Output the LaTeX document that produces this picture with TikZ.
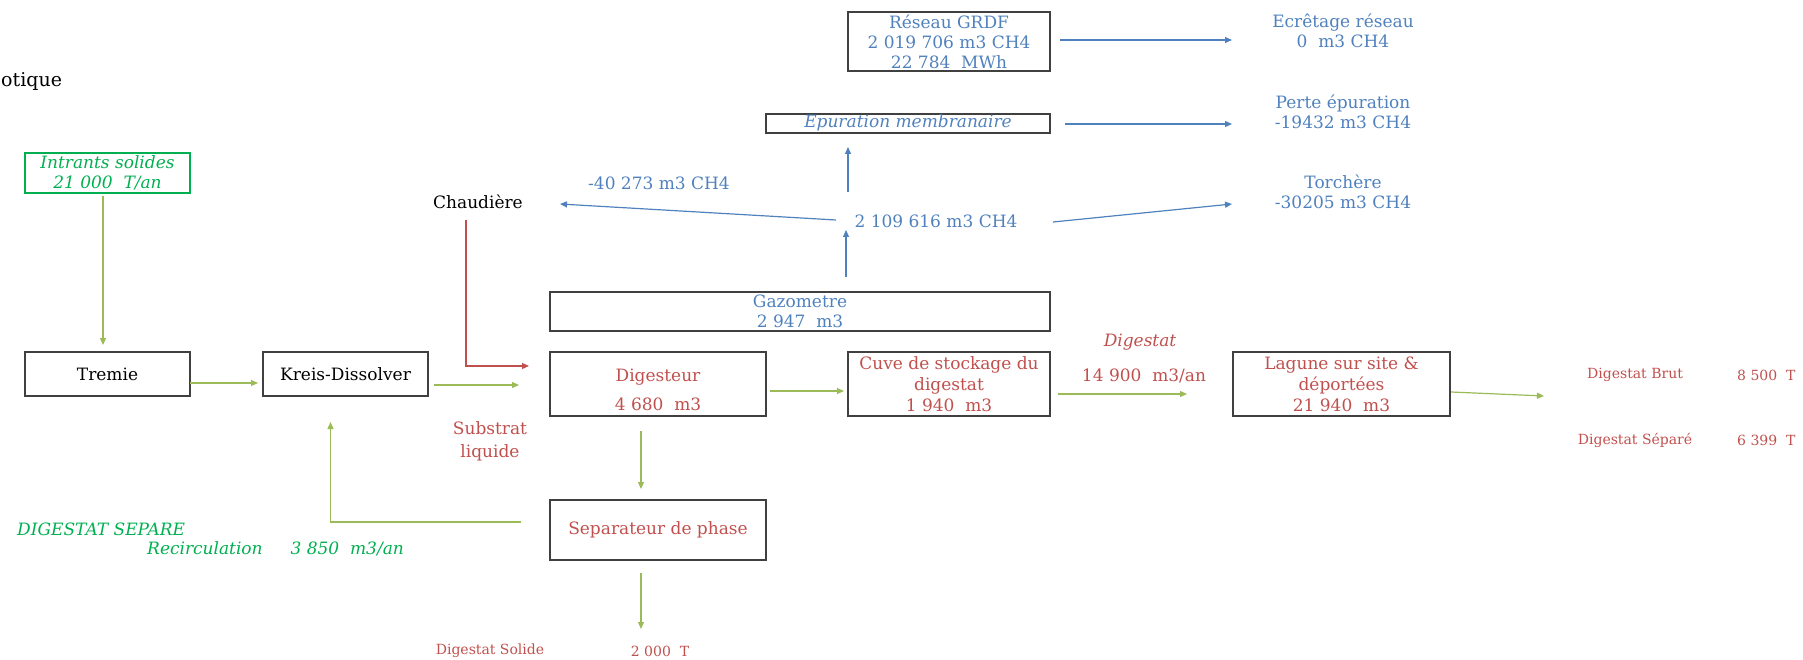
\documentclass[tikz,border=0pt]{standalone}
\usepackage{fontspec}
\setmainfont{DejaVu Serif}
\usetikzlibrary{arrows.meta,calc}

\definecolor{grdfblue}{RGB}{79,129,189}
\definecolor{digred}{RGB}{192,80,77}
\definecolor{flowgreen}{RGB}{155,187,89}
\definecolor{inputgreen}{RGB}{0,176,80}
\definecolor{boxline}{RGB}{64,64,64}

\newcommand{\txtmain}{\fontsize{17}{20}\selectfont}
\newcommand{\txtsmall}{\fontsize{14}{16}\selectfont}
\newcommand{\txttitle}{\fontsize{19}{22}\selectfont}

\begin{document}
\begin{tikzpicture}[x=1pt,y=1pt,yscale=-1,xscale=1,
  box/.style={draw=boxline,line width=1.4pt,inner sep=0pt,align=center,font=\txtmain},
  lbl/.style={inner sep=1pt,align=center,font=\txtmain},
  garrow/.style={draw=flowgreen,line width=1.2pt,-{Triangle[length=7pt,width=6pt]}},
  barrow/.style={draw=grdfblue,line width=1.2pt,-{Triangle[length=7pt,width=6pt]}},
  rarrow/.style={draw=digred,line width=1.2pt,-{Triangle[length=7pt,width=6pt]}}]
%set diagram size 1803 x 660
\useasboundingbox (0,0) rectangle (1803,660);

\node[lbl,anchor=west,font=\txttitle] (title) at (0,81) {otique};

\node[box,draw=inputgreen,line width=1.2pt,minimum width=165pt,minimum height=40pt,text=inputgreen,font=\txtmain\itshape] (intrants) at (107.5,173) {Intrants solides\\21 000\ \ T/an};
\node[box,minimum width=165pt,minimum height=44pt] (tremie) at (107.5,374) {Tremie};
\node[box,minimum width=165pt,minimum height=44pt] (kreis) at (345.5,374) {Kreis-Dissolver};
\node[box,text=digred,minimum width=216pt,minimum height=64pt] (digesteur) at (658,384) {\rule{0pt}{25pt}Digesteur\\[9pt]4 680\ \ m3};
\node[box,text=grdfblue,minimum width=500pt,minimum height=39pt] (gazometre) at (800,311.5) {Gazometre\\2 947\ \ m3};
\node[box,text=digred,minimum width=202pt,minimum height=64pt,font=\fontsize{17}{21}\selectfont] (cuve) at (949,384) {Cuve de stockage du\\digestat\\1 940\ \ m3};
\node[box,text=digred,minimum width=216pt,minimum height=60pt] (separateur) at (658,530) {Separateur de phase};
\node[box,text=digred,minimum width=217pt,minimum height=64pt,font=\fontsize{17}{21}\selectfont] (lagune) at (1341.5,384) {Lagune sur site \&\\déportées\\21 940\ \ m3};
\node[box,text=grdfblue,minimum width=284pt,minimum height=19pt,text height=11pt,text depth=3pt,font=\txtmain\itshape] (epuration) at (908,123.5) {Epuration membranaire};
\node[box,text=grdfblue,minimum width=202pt,minimum height=59pt] (reseau) at (949,41.5) {Réseau GRDF\\2 019 706 m3 CH4\\22 784\ \ MWh};

\node[lbl] (chaud) at (478,202) {Chaudière};
\node[lbl,text=digred] (substrat) at (490,441) {Substrat\\[3pt]liquide};
\node[lbl,text=grdfblue] (gastot) at (936,221) {2 109 616 m3 CH4};
\node[lbl,text=grdfblue] (chaudval) at (659,183) {-40 273 m3 CH4};
\node[lbl,text=grdfblue] (ecretage) at (1343,31) {Ecrêtage réseau\\0\ \ m3 CH4};
\node[lbl,text=grdfblue] (perte) at (1343,112) {Perte épuration\\-19432 m3 CH4};
\node[lbl,text=grdfblue] (torchere) at (1343,192) {Torchère\\-30205 m3 CH4};
\node[lbl,text=digred,font=\txtmain\itshape] (digflux) at (1140,342) {Digestat};
\node[lbl,text=digred] (digvol) at (1144,376) {14 900\ \ m3/an};
\node[lbl,text=digred,font=\txtsmall] (brut) at (1635,375) {Digestat Brut};
\node[lbl,text=digred,font=\txtsmall,anchor=west] (brutval) at (1736,375) {8 500\ \ T};
\node[lbl,text=digred,font=\txtsmall] (separe) at (1635,440) {Digestat Séparé};
\node[lbl,text=digred,font=\txtsmall,anchor=west] (separeval) at (1736,440) {6 399\ \ T};
\node[lbl,text=digred,font=\txtsmall] (solide) at (490,651) {Digestat Solide};
\node[lbl,text=digred,font=\txtsmall] (solideval) at (660,651) {2 000\ \ T};
\node[lbl,text=inputgreen,font=\txtmain\itshape,anchor=west] (digsep) at (16,529) {DIGESTAT SEPARE};
\node[lbl,text=inputgreen,font=\txtmain\itshape,anchor=west] (recirc) at (146,549) {Recirculation\hspace{28pt}3 850\ \ m3/an};

\draw[garrow] ($(intrants.center)+(-4.5,23)$) -- ($(tremie.center)+(-4.5,-29)$);

\draw[garrow] ($(tremie.center)+(82.5,9)$) -- ($(kreis.center)+(-87.5,9)$);

\draw[garrow] ($(kreis.center)+(88.5,11)$) -- ($(digesteur.center)+(-139,1)$);

\draw[rarrow] ($(chaud.center)+(-12,18)$) |- ($(digesteur.center)+(-129,-18)$);

\draw[garrow] ($(digesteur.center)+(112,7)$) -- ($(cuve.center)+(-105,7)$);

\draw[garrow] ($(digesteur.center)+(-17,47)$) -- ($(separateur.center)+(-17,-41)$);

\draw[garrow] ($(separateur.center)+(-17,43)$) -- ($(solideval.center)+(-19,-22)$);

\draw[garrow] ($(separateur.center)+(-137,-8)$) -| ($(kreis.center)+(-15,48)$);

\draw[garrow] ($(cuve.center)+(109,10)$) -- ($(lagune.center)+(-154.5,10)$);

\draw[garrow] ($(lagune.center)+(109.5,8)$) -- ($(brut.center)+(-91,21)$);

\draw[barrow] ($(gazometre.center)+(46,-34.5)$) -- ($(gastot.center)+(-90,9)$);

\draw[barrow] ($(gastot.center)+(-88,-29)$) -- ($(epuration.center)+(-60,23.5)$);

\draw[barrow] ($(gastot.center)+(-100,-1)$) -- ($(chaud.center)+(82,2)$);

\draw[barrow] ($(gastot.center)+(117,1)$) -- ($(torchere.center)+(-111,12)$);

\draw[barrow] ($(reseau.center)+(111,-1.5)$) -- ($(ecretage.center)+(-111,9)$);

\draw[barrow] ($(epuration.center)+(157,0.5)$) -- ($(perte.center)+(-111,12)$);

\end{tikzpicture}
\end{document}
